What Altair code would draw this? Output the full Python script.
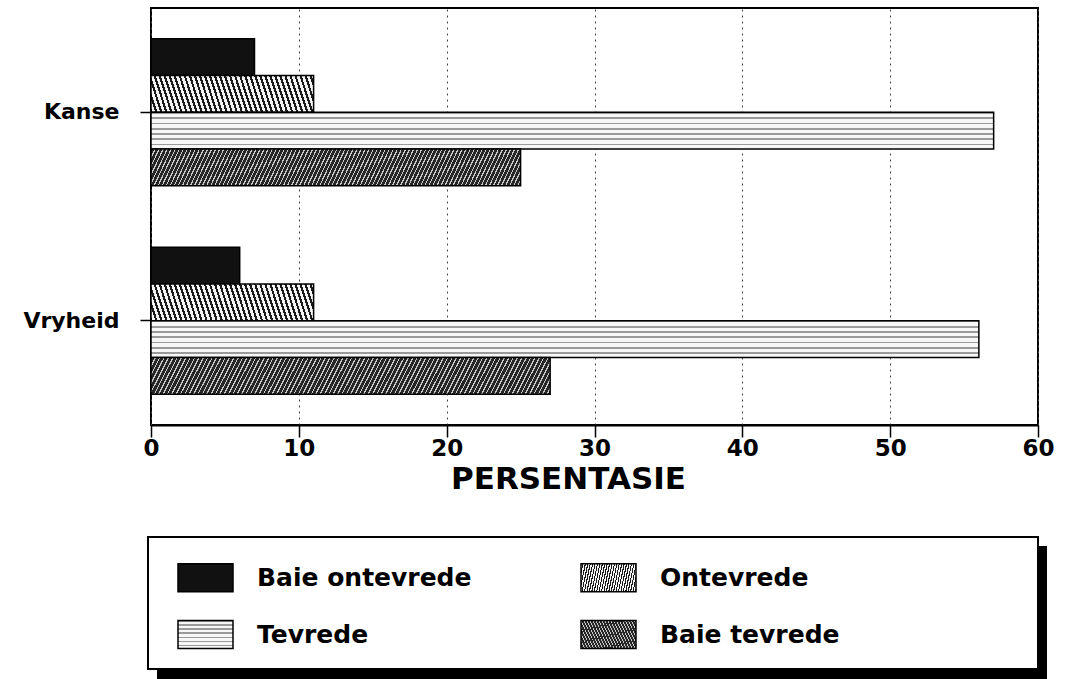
import json
import altair as alt
import pandas as pd

# ---- data ----
groups = ["Kanse", "Vryheid"]
categories = ["Baie ontevrede", "Ontevrede", "Tevrede", "Baie tevrede"]
kanse_values = [7, 11, 57, 25]
vryheid_values = [6, 11, 56, 27]
x_ticks = [0, 10, 20, 30, 40, 50, 60]

rows = []
for g, vals in zip(groups, [kanse_values, vryheid_values]):
    for c, v in zip(categories, vals):
        rows.append({"Groep": g, "Kategorie": c, "Persentasie": v})
df = pd.DataFrame(rows)

FONT = "DejaVu Sans"


def stripes(x1, y1, x2, y2, n, line_frac, line_color, base_color):
    stops = []
    for i in range(n):
        a = round(i / n, 5)
        b = round((i + line_frac) / n, 5)
        c = round((i + 1) / n, 5)
        stops += [
            {"offset": a, "color": line_color},
            {"offset": b, "color": line_color},
            {"offset": b, "color": base_color},
            {"offset": c, "color": base_color},
        ]
    g = {"gradient": "linear", "x1": x1, "y1": y1, "x2": x2, "y2": y2, "stops": stops}
    return alt.ExprRef(expr="(" + json.dumps(g) + ")")


fills = [
    "#111111",
    stripes(-0.1, 0.544, 1.1, 0.456, 39, 0.45, "#1a1a1a", "#f4f4f4"),
    stripes(0, 0, 0, 1, 7, 0.3, "#9a9a9a", "#f7f7f7"),
    stripes(-0.1, 0.472, 1.1, 0.528, 110, 0.3, "#c8c8c8", "#262626"),
]

bars = alt.Chart(df).mark_bar(stroke="black", strokeWidth=1.5).encode(
    x=alt.X(
        "Persentasie:Q",
        scale=alt.Scale(domain=[0, 60], nice=False, zero=True),
        axis=alt.Axis(
            values=x_ticks,
            title="PERSENTASIE",
            grid=True,
            gridDash=[2, 4],
            gridColor="#444444",
            gridWidth=1,
            domain=True,
            domainColor="black",
            domainWidth=2,
            tickSize=12,
            tickColor="black",
            tickWidth=1.5,
            labelFont=FONT,
            labelFontSize=23,
            labelFontWeight="bold",
            labelColor="black",
            labelPadding=0,
            labelFlush=False,
            labelOverlap=False,
            titleFont=FONT,
            titleFontSize=31,
            titleFontWeight="bold",
            titleColor="black",
            titleX=417,
            titleY=63,
            titleBaseline="alphabetic",
        ),
    ),
    y=alt.Y(
        "Groep:N",
        sort=groups,
        scale=alt.Scale(paddingInner=0.295, paddingOuter=0.1475),
        axis=alt.Axis(
            title=None,
            domain=False,
            tickSize=11,
            tickColor="black",
            tickWidth=1.5,
            labelFont=FONT,
            labelFontSize=22,
            labelFontWeight="bold",
            labelColor="black",
            labelPadding=21,
            minExtent=146,
            maxExtent=146,
        ),
    ),
    yOffset=alt.YOffset(
        "Kategorie:N", sort=categories, scale=alt.Scale(paddingInner=0, paddingOuter=0)
    ),
    color=alt.Color(
        "Kategorie:N",
        sort=categories,
        scale=alt.Scale(domain=categories, range=fills),
        legend=alt.Legend(
            title=None,
            orient="none",
            legendX=26,
            legendY=541,
            direction="horizontal",
            columns=2,
            symbolType="M-1,-0.51H1V0.51H-1Z",
            symbolSize=3025,
            symbolStrokeColor="black",
            symbolStrokeWidth=1.5,
            symbolOpacity=1,
            labelFont=FONT,
            labelFontSize=25,
            labelFontWeight="bold",
            labelColor="black",
            labelOffset=23,
            labelLimit=400,
            columnPadding=106,
            rowPadding=11,
            padding=0,
            zindex=2,
        ),
    ),
)

frame_df = pd.DataFrame({"k": [0]})
shadow = alt.Chart(frame_df).mark_rect(color="black").encode(
    x=alt.value(6), x2=alt.value(896), y=alt.value(538), y2=alt.value(671)
)
box = alt.Chart(frame_df).mark_rect(fill="white", stroke="black", strokeWidth=2).encode(
    x=alt.value(-3), x2=alt.value(887), y=alt.value(529), y2=alt.value(661)
)

chart = (
    alt.layer(shadow, box, bars)
    .properties(
        width=887,
        height=417,
        padding={"left": 5, "top": 8, "right": 10, "bottom": 0},
        background="white",
    )
    .configure_view(stroke="black", strokeWidth=2)
)

chart.save("out.html", embed_options={"renderer": "svg", "actions": False})
